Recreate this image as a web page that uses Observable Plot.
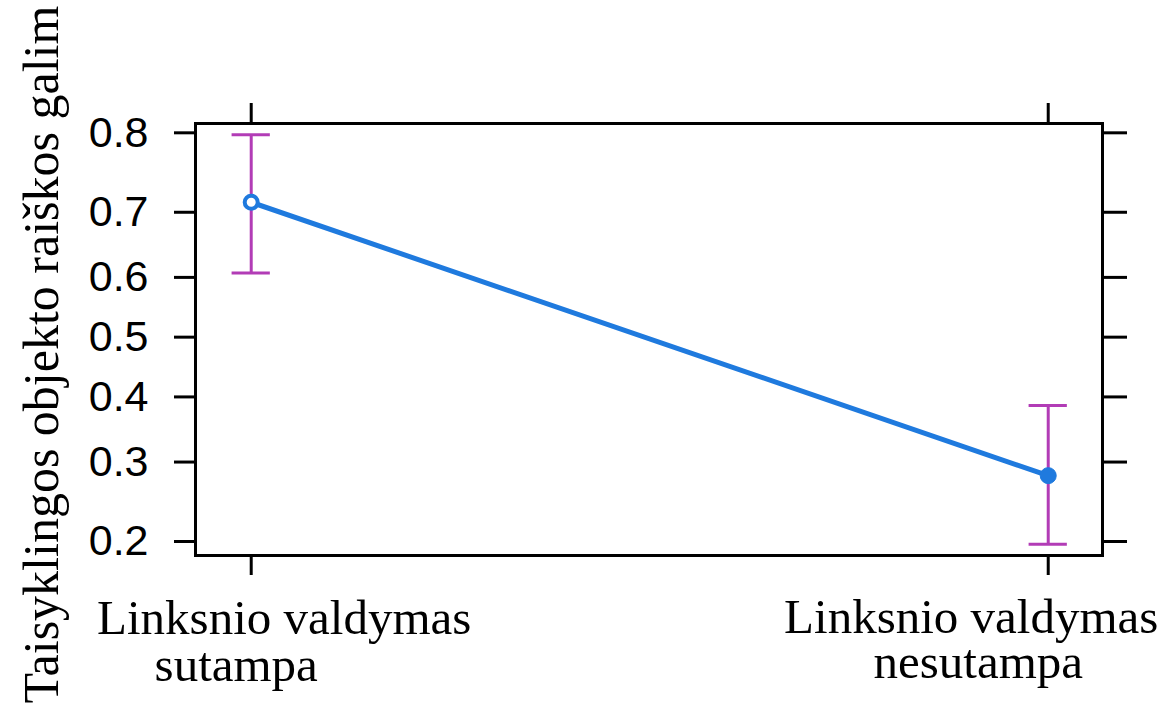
<!DOCTYPE html>
<html>
<head>
<meta charset="utf-8">
<script src="https://cdn.jsdelivr.net/npm/d3@7"></script>
<script src="https://cdn.jsdelivr.net/npm/@observablehq/plot@0.6"></script>
<style>
  html, body { margin: 0; padding: 0; background: white; }
  #chart svg { overflow: visible; }
</style>
</head>
<body>
<div id="chart"></div>
<script>
// ---- data ----
const categories = ["Linksnio valdymas\nsutampa", "Linksnio valdymas\nnesutampa"];
const fit   = [0.714, 0.281];
const lower = [0.607, 0.197];
const upper = [0.798, 0.386];
const yTickValues = [0.2, 0.3, 0.4, 0.5, 0.6, 0.7, 0.8];
const yTitle = "Taisyklingos objekto raiškos galim";

// logit scale helpers
const logit = p => Math.log(p / (1 - p));
const invlogit = l => 1 / (1 + Math.exp(-l));

const rows = categories.map((c, i) => ({
  i: i + 1,
  line1: c.split("\n")[0],
  line2: c.split("\n")[1],
  L: logit(fit[i]),
  lo: logit(lower[i]),
  hi: logit(upper[i])
}));

const blue = "#1f7ade";
const magenta = "#b23cb6";
const capW = 0.024;
const serif = "Liberation Serif, Times New Roman, serif";
const sans = "Liberation Sans, Arial, sans-serif";

const labelMark = (idx, field, dx, dy) =>
  Plot.text(rows.filter((d, k) => k === idx), {
    x: "i", text: field, frameAnchor: "bottom", lineAnchor: "bottom",
    dx, dy, fontSize: 49, fontFamily: serif, fill: "black"
  });

const chart = Plot.plot({
  width: 1172,
  height: 706,
  marginLeft: 195,
  marginRight: 70,
  marginTop: 123,
  marginBottom: 151,
  style: { background: "white", overflow: "visible" },
  x: { type: "linear", domain: [0.9301, 2.0681] },
  y: { type: "linear", domain: [-1.4813, 1.4495] },
  marks: [
    Plot.axisY({ anchor: "left", ticks: yTickValues.map(logit), tickFormat: d => invlogit(d).toFixed(1),
      tickSize: 21, tickPadding: 26, strokeWidth: 3, fontSize: 43, fontFamily: sans, label: null, fill: "black" }),
    Plot.axisY({ anchor: "right", ticks: yTickValues.map(logit), tickFormat: () => "",
      tickSize: 24, strokeWidth: 3, label: null }),
    Plot.axisX({ anchor: "top", ticks: [1, 2], tickFormat: () => "", tickSize: 21, strokeWidth: 3, label: null }),
    Plot.axisX({ anchor: "bottom", ticks: [1, 2], tickFormat: () => "", tickSize: 20, strokeWidth: 3, label: null }),
    Plot.frame({ stroke: "black", strokeWidth: 3 }),
    // error bars
    Plot.ruleX(rows, { x: "i", y1: "lo", y2: "hi", stroke: magenta, strokeWidth: 3 }),
    Plot.ruleY(rows, { y: "hi", x1: d => d.i - capW, x2: d => d.i + capW, stroke: magenta, strokeWidth: 3 }),
    Plot.ruleY(rows, { y: "lo", x1: d => d.i - capW, x2: d => d.i + capW, stroke: magenta, strokeWidth: 3 }),
    // fitted line
    Plot.line(rows, { x: "i", y: "L", stroke: blue, strokeWidth: 5 }),
    Plot.dot(rows.filter((d, k) => k === 0), { x: "i", y: "L", r: 6.5, fill: "white", stroke: blue, strokeWidth: 4 }),
    Plot.dot(rows.filter((d, k) => k === 1), { x: "i", y: "L", r: 8, fill: blue, stroke: blue, strokeWidth: 1 }),
    // category labels
    labelMark(0, "line1", 33, 78),
    labelMark(0, "line2", -15, 125),
    labelMark(1, "line1", -77, 77),
    labelMark(1, "line2", -70, 122),
    // y title
    Plot.text([yTitle], {
      frameAnchor: "bottom-left", text: d => d, rotate: -90,
      textAnchor: "start", lineAnchor: "bottom",
      dx: -138, dy: 148, fontSize: 50, fontFamily: serif, fill: "black"
    })
  ]
});

document.getElementById("chart").appendChild(chart);
</script>
</body>
</html>
